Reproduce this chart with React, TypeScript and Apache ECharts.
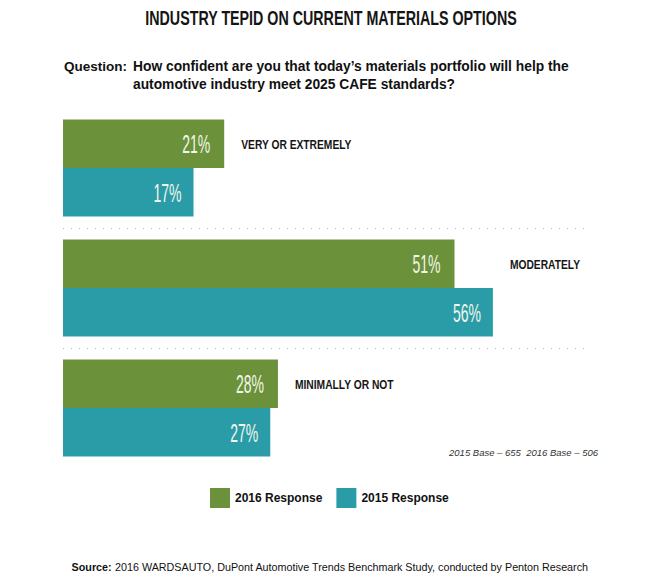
import React, { useEffect, useRef } from "react";
import * as echarts from "echarts";

const categories = ["VERY OR EXTREMELY", "MODERATELY", "MINIMALLY OR NOT"];
const values2016 = [21, 51, 28];
const values2015 = [17, 56, 27];
const seriesNames = ["2016 Response", "2015 Response"];
const titleText = "INDUSTRY TEPID ON CURRENT MATERIALS OPTIONS";
const questionLabel = "Question:";
const questionText = "How confident are you that today’s materials portfolio will help the\nautomotive industry meet 2025 CAFE standards?";
const baseNote = "2015 Base – 655  2016 Base – 506";
const sourceLabel = "Source:";
const sourceText = " 2016 WARDSAUTO, DuPont Automotive Trends Benchmark Study, conducted by Penton Research";

const GREEN = "#6b923b";
const TEAL = "#2a9ca8";
const SANS = "'Liberation Sans', Arial, sans-serif";
const BAR_W = 48.5;

export default function App() {
  const ref = useRef<HTMLDivElement>(null);
  useEffect(() => {
    if (!ref.current) return;
    const chart = echarts.init(ref.current, null, { renderer: "svg" });
    chart.setOption({
      animation: false,
      backgroundColor: "#ffffff",
      grid: { left: 63, right: 75, top: 108, height: 360 },
      xAxis: { type: "value", min: 0, max: 68, show: false },
      yAxis: {
        type: "category",
        data: categories,
        inverse: true,
        axisLine: { show: false },
        axisTick: { show: false },
        axisLabel: { show: false },
        splitLine: {
          show: true,
          showMinLine: false,
          showMaxLine: false,
          lineStyle: { color: "#b8b8b8", type: [1, 7], width: 1 },
        },
      },
      legend: {
        left: 205,
        top: 483,
        itemWidth: 20,
        itemHeight: 20,
        itemGap: 14,
        icon: "rect",
        data: seriesNames,
        textStyle: { fontFamily: SANS, fontWeight: "bold", fontSize: 12, color: "#111" },
      },
      series: [
        {
          name: seriesNames[0],
          type: "bar",
          data: values2016,
          barWidth: BAR_W,
          barGap: "0%",
          z: 2,
          itemStyle: { color: GREEN },
        },
        {
          name: seriesNames[1],
          type: "bar",
          data: values2015,
          barWidth: BAR_W,
          barGap: "0%",
          z: 2,
          itemStyle: { color: TEAL },
        },
        {
          name: "labels",
          type: "custom",
          silent: true,
          z: 10,
          data: categories.map((c, i) => [values2016[i], values2015[i], i]),
          encode: { x: [0, 1], y: 2 },
          renderItem: (params: any, api: any) => {
            const i = api.value(2);
            const v16 = api.value(0);
            const v15 = api.value(1);
            const p16 = api.coord([v16, i]);
            const p15 = api.coord([v15, i]);
            const pMax = api.coord([Math.max(v16, v15), i]);
            const yc = p16[1];
            const yG = yc - BAR_W / 2;
            const yT = yc + BAR_W / 2;
            const valueText = (x: number, y: number, t: string) => ({
              type: "text",
              x,
              y,
              scaleX: 0.56,
              z2: 10,
              style: {
                text: t,
                font: `25px ${SANS}`,
                fill: "#f3f5e8",
                align: "right",
                verticalAlign: "middle",
              },
            });
            return {
              type: "group",
              children: [
                valueText(p16[0] - 14, yG + 1, `${v16}%`),
                valueText(p15[0] - 12, yT + 1, `${v15}%`),
                {
                  type: "text",
                  x: pMax[0] + 17,
                  y: yG,
                  scaleX: 0.79,
                  style: {
                    text: categories[i],
                    font: `bold 13px ${SANS}`,
                    fill: "#151515",
                    align: "left",
                    verticalAlign: "middle",
                  },
                },
              ],
            };
          },
        },
      ],
      graphic: [
        {
          type: "text",
          x: 331,
          y: 18,
          scaleX: 0.68,
          style: {
            text: titleText,
            font: `bold 21px ${SANS}`,
            fill: "#151515",
            align: "center",
            verticalAlign: "middle",
          },
        },
        {
          type: "text",
          x: 64,
          y: 66,
          style: {
            text: questionLabel,
            font: `bold 13.5px ${SANS}`,
            fill: "#111",
            verticalAlign: "middle",
          },
        },
        {
          type: "text",
          x: 133,
          y: 57,
          style: {
            text: questionText,
            font: `bold 13.8px ${SANS}`,
            fill: "#111",
            lineHeight: 18,
            verticalAlign: "top",
          },
        },
        {
          type: "text",
          x: 598,
          y: 452,
          style: {
            text: baseNote,
            font: `italic 9.5px ${SANS}`,
            fill: "#333",
            align: "right",
            verticalAlign: "middle",
          },
        },
        {
          type: "text",
          x: 330,
          y: 567,
          style: {
            text: `{b|${sourceLabel}}{n|${sourceText}}`,
            align: "center",
            verticalAlign: "middle",
            rich: {
              b: { font: `bold 10.75px ${SANS}`, fill: "#111" },
              n: { font: `10.75px ${SANS}`, fill: "#111" },
            },
          },
        },
      ],
    });
    return () => chart.dispose();
  }, []);
  return (
    <div
      ref={ref}
      style={{ position: "absolute", left: 0, top: 0, width: 660, height: 580 }}
    />
  );
}
